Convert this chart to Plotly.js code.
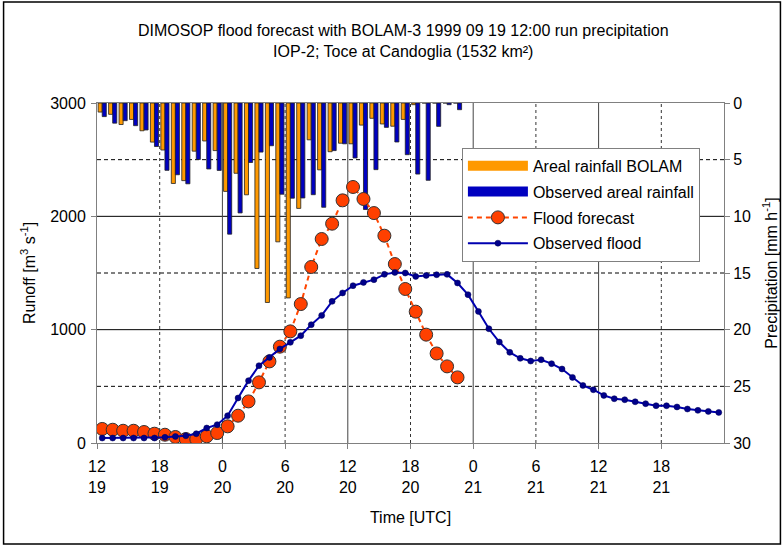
<!DOCTYPE html>
<html><head><meta charset="utf-8">
<script src="https://cdn.plot.ly/plotly-3.0.1.min.js"></script>
<style>html,body{margin:0;padding:0;background:#fff}#chart{width:783px;height:546px}</style>
</head><body><div id="chart"></div>
<script>
// hour index since 1999-09-19 12:00 UTC
const hourIndex = [0,1,2,3,4,5,6,7,8,9,10,11,12,13,14,15,16,17,18,19,20,21,22,23,24,25,26,27,28,29,
  30,31,32,33,34,35,36,37,38,39,40,41,42,43,44,45,46,47,48,49,50,51,52,53,54,55,56,57,58,59];
const rainHours = [0,1,2,3,4,5,6,7,8,9,10,11,12,13,14,15,16,17,18,19,20,21,22,23,24,25,26,27,28,29,30,31,32,33,34];
const rainBolam = [0.8,1.0,1.9,1.45,2.45,3.45,4.15,7.1,6.85,4.25,3.35,4.2,7.8,6.2,8.1,14.6,17.6,12.25,17.2,9.3,
  3.25,5.9,4.3,3.55,3.6,1.95,1.35,1.85,2.05,1.45,0.15,0,0,0,0];
const rainObserved = [1.2,1.78,1.56,2.0,2.38,3.84,5.94,6.33,7.13,4.98,5.82,5.95,11.57,9.7,5.25,4.33,3.77,8.05,8.4,8.38,
  8.09,9.2,4.2,3.6,4.85,9.4,5.88,2.15,3.44,4.56,6.27,6.82,2.06,0.15,0.59];
const forecastHours = [0,1,2,3,4,5,6,7,8,9,10,11,12,13,14,15,16,17,18,19,20,21,22,23,24,25,26,27,28,29,30,31,32,33,34];
const floodForecast = [124,117,108,108,97,82,73,53,35,35,59,88,147,241,367,535,720,850,985,1226,
  1553,1800,1935,2141,2259,2153,2029,1829,1579,1359,1159,956,790,676,579];
const floodObserved = [44,44,44,44,44,44,50,58,64,82,132,162,241,397,550,682,755,830,888,947,
  1044,1126,1250,1324,1388,1417,1441,1488,1505,1500,1470,1479,1485,1488,1412,1309,1161,1008,891,800,
  747,723,735,700,653,579,508,470,420,391,382,364,347,329,329,318,300,288,279,270];
const tickHour = ['12','18','0','6','12','18','0','6','12','18'];
const tickDay  = ['19','19','20','20','20','20','21','21','21','21'];
const tickPos  = [0,6,12,18,24,30,36,42,48,54];

const mid = a => a.map(h => h + 0.5);

const traces = [
  {type:'bar', name:'Areal rainfall BOLAM', x:mid(rainHours), y:rainBolam, yaxis:'y', showlegend:false,
   marker:{color:'#FF9900', line:{color:'#222', width:0.8}}},
  {type:'bar', name:'Observed areal rainfall', x:mid(rainHours), y:rainObserved, yaxis:'y', showlegend:false,
   marker:{color:'#0000C0', line:{color:'#222', width:0.8}}},
  // legend swatches (wide rectangles as in the reference legend)
  {type:'scatter', mode:'lines', name:'Areal rainfall BOLAM', x:[null], y:[null], yaxis:'y2', legendgroup:'a',
   line:{color:'#FF9900', width:10}, hoverinfo:'skip'},
  {type:'scatter', mode:'lines', name:'Observed areal rainfall', x:[null], y:[null], yaxis:'y2', legendgroup:'b',
   line:{color:'#0000C0', width:10}, hoverinfo:'skip'},
  {type:'scatter', mode:'lines+markers', name:'Flood forecast', x:mid(forecastHours), y:floodForecast, yaxis:'y2', legendgroup:'c',
   line:{color:'#FF4500', width:2, dash:'5px,4px'},
   marker:{symbol:'circle', size:13, color:'#FF4000', line:{color:'#333', width:1}}},
  {type:'scatter', mode:'lines+markers', name:'Observed flood', x:mid(hourIndex), y:floodObserved, yaxis:'y2', legendgroup:'d',
   line:{color:'#0000B0', width:2},
   marker:{symbol:'circle', size:6, color:'#00008B', line:{color:'#000050', width:0.5}}}
];

const shapes = [];
[1000,2000].forEach(v => shapes.push({type:'line', xref:'paper', x0:0, x1:1, yref:'y2', y0:v, y1:v, layer:'below', line:{color:'#000', width:1}}));
[500,1500,2500].forEach(v => shapes.push({type:'line', xref:'paper', x0:0, x1:1, yref:'y2', y0:v, y1:v, layer:'below', line:{color:'#000', width:1, dash:'4px,3px'}}));
[12,24,36,48].forEach(v => shapes.push({type:'line', yref:'paper', y0:0, y1:1, xref:'x', x0:v, x1:v, layer:'below', line:{color:'#444', width:1}}));
[6,18,30,42,54].forEach(v => shapes.push({type:'line', yref:'paper', y0:0, y1:1, xref:'x', x0:v, x1:v, layer:'below', line:{color:'#333', width:1, dash:'3px,3px'}}));
// outer chart frame
shapes.push({type:'rect', xref:'paper', yref:'paper', x0:-0.149, x1:1.09, y0:-0.297, y1:1.297, layer:'below', line:{color:'#000', width:1.5}});

const layout = {
  width:783, height:546,
  margin:{l:97, r:59, t:103, b:103},
  paper_bgcolor:'#fff', plot_bgcolor:'#fff',
  font:{family:'"Liberation Sans", Arial, sans-serif', size:16, color:'#000'},
  title:{text:'DIMOSOP flood forecast with BOLAM-3 1999 09 19 12:00 run precipitation<br>IOP-2; Toce at Candoglia (1532 km²)',
         xref:'container', x:0.515, xanchor:'center', yref:'container', y:0.934, yanchor:'top', font:{size:16}},
  barmode:'group', bargap:0.22, bargroupgap:0,
  showlegend:true,
  legend:{x:0.582, y:0.868, xanchor:'left', yanchor:'top', bgcolor:'#fff', bordercolor:'#808080', borderwidth:1,
          font:{size:16}, itemwidth:60, traceorder:'grouped', tracegroupgap:2},
  xaxis:{range:[0,60], tickmode:'array', tickvals:tickPos, ticktext:tickHour.map((h,i)=>h+'<br>'+tickDay[i]),
         showgrid:false, zeroline:false, showline:true, linecolor:'#808080', mirror:true,
         ticks:'outside', ticklen:5, tickcolor:'#808080', ticklabelstandoff:4,
         title:{text:'Time [UTC]', standoff:16, font:{size:16}}},
  yaxis:{side:'right', range:[30,0], tickmode:'array', tickvals:[0,5,10,15,20,25,30],
         showgrid:false, zeroline:false, showline:true, linecolor:'#808080',
         ticks:'outside', ticklen:5, tickcolor:'#808080',
         title:{text:'Precipitation [mm h<sup>-1</sup>]', standoff:15, font:{size:16}}},
  yaxis2:{overlaying:'y', side:'left', anchor:'x', range:[0,3000], tickmode:'array', tickvals:[0,1000,2000,3000],
          showgrid:false, zeroline:false, showline:true, linecolor:'#808080',
          ticks:'outside', ticklen:5, tickcolor:'#808080', ticklabelstandoff:2,
          title:{text:'Runoff [m<sup>3</sup> s<sup>-1</sup>]', standoff:10, font:{size:16}}},
  shapes:shapes
};
Plotly.newPlot('chart', traces, layout, {displayModeBar:false, staticPlot:true});
</script></body></html>
